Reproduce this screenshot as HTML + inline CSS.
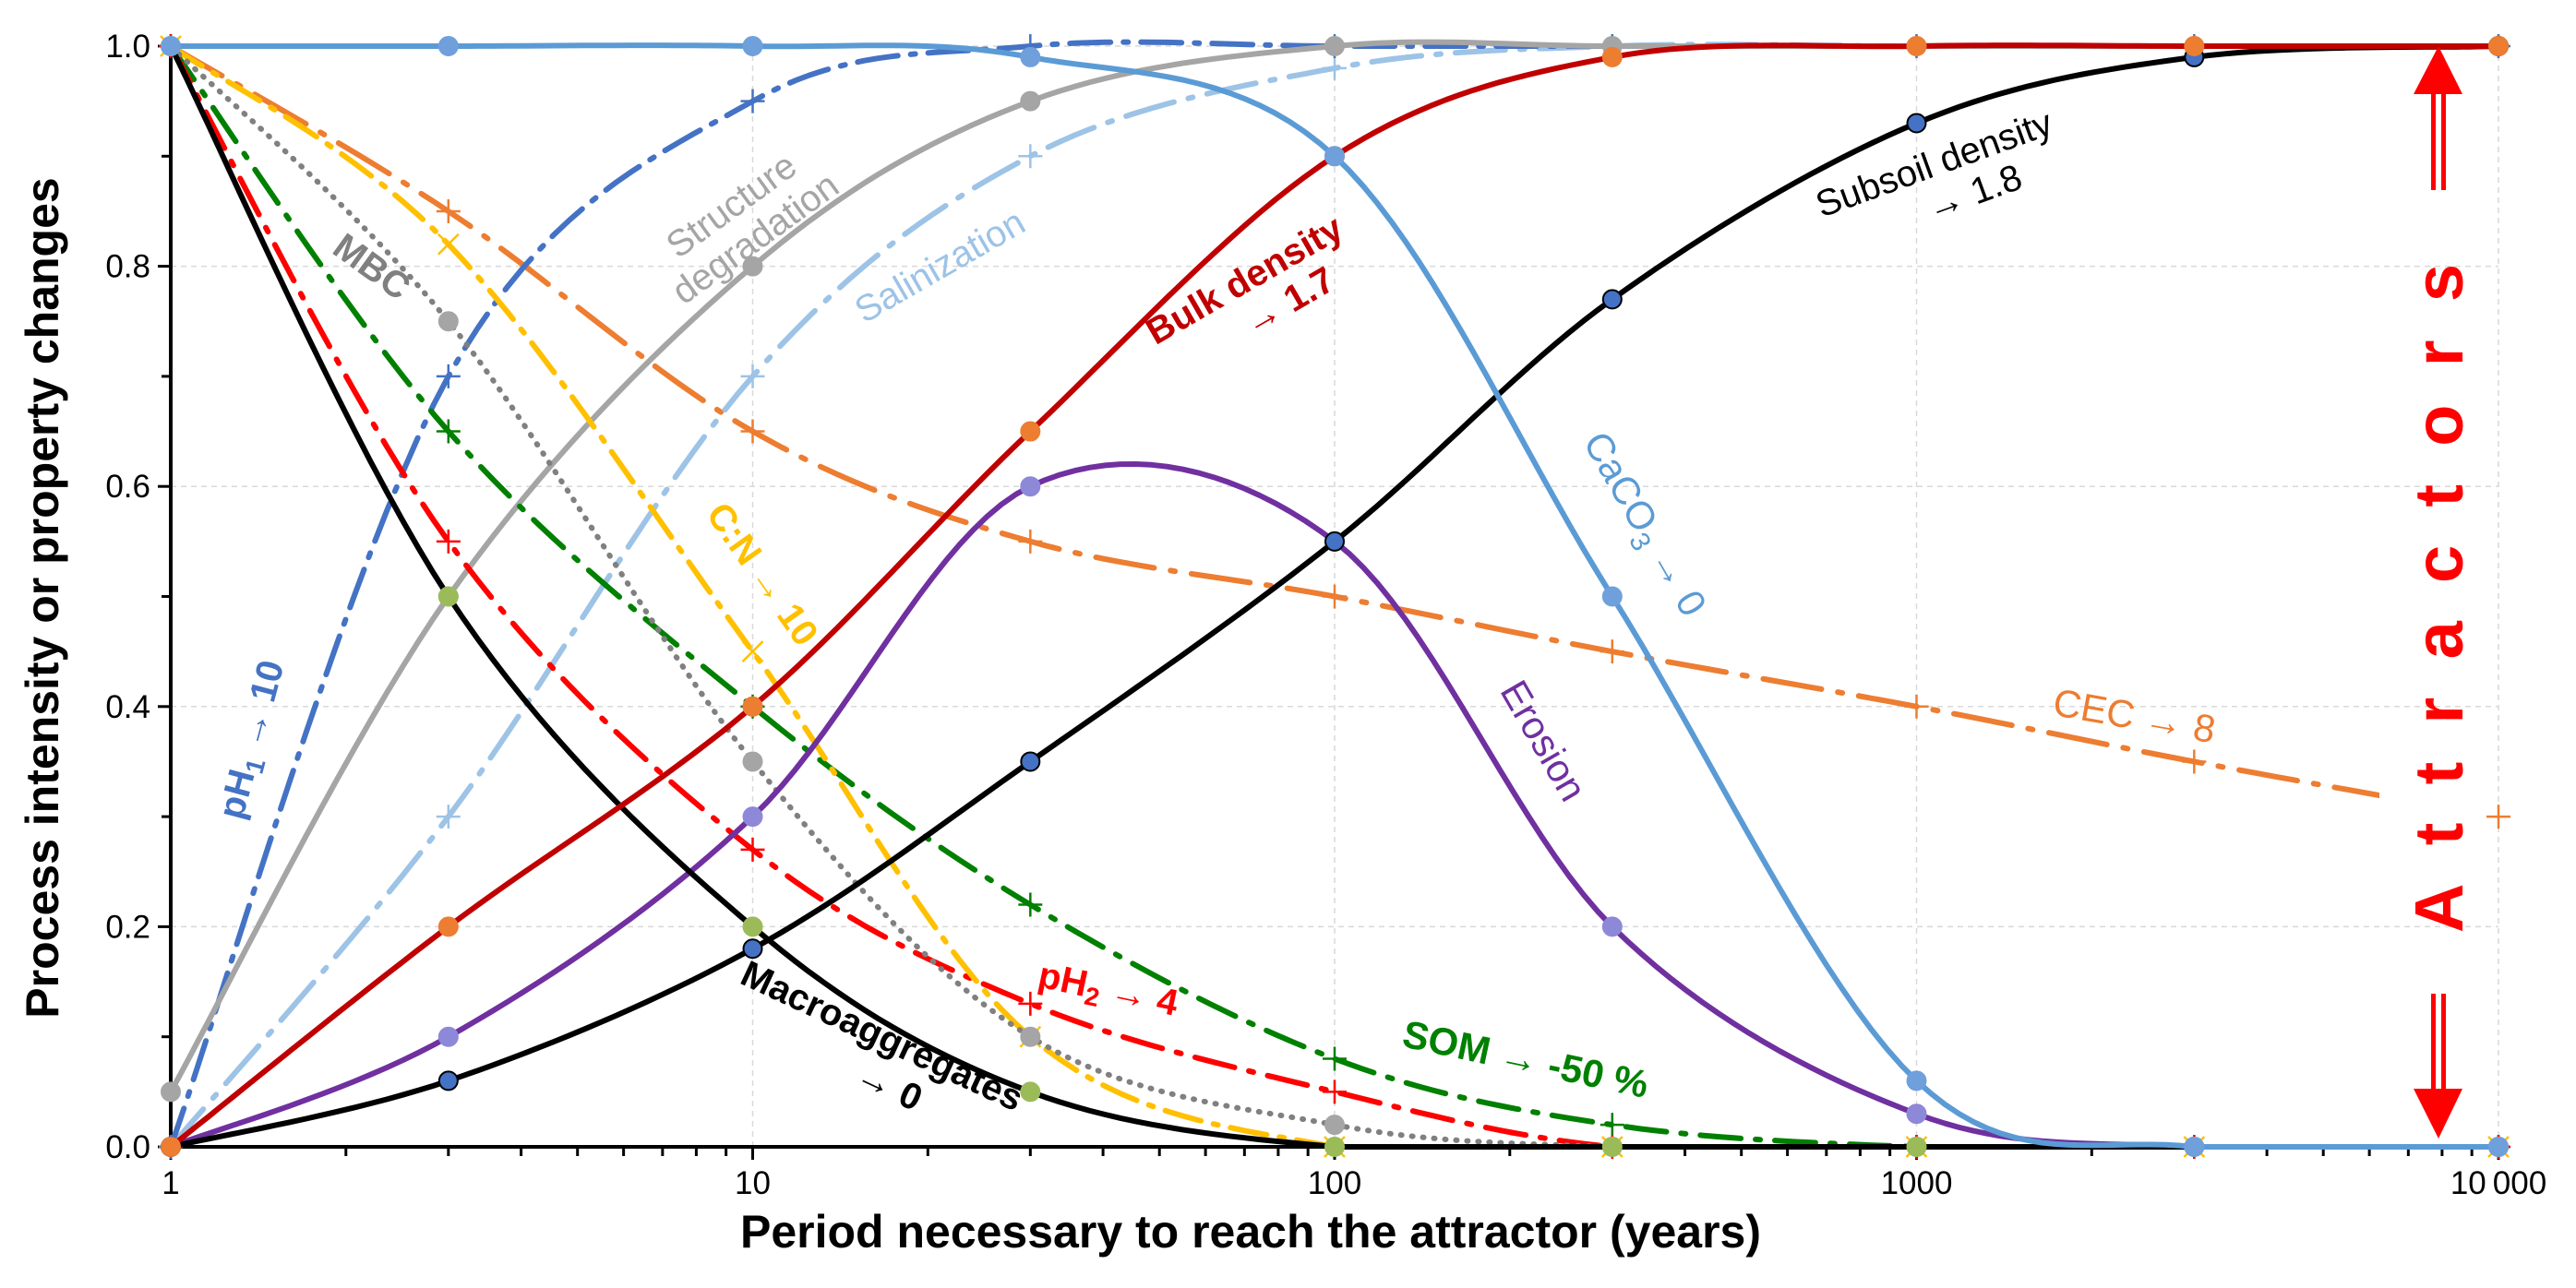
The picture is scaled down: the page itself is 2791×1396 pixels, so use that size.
<!DOCTYPE html>
<html><head><meta charset="utf-8"><style>
html,body{margin:0;padding:0;background:#fff}
svg{display:block;font-family:"Liberation Sans",sans-serif}
</style></head><body>
<svg id="chart" width="2791" height="1396" viewBox="0 0 2791 1396" xmlns="http://www.w3.org/2000/svg">
<defs><clipPath id="cecclip"><rect x="0" y="0" width="2578" height="1396"/></clipPath></defs>
<g id="grid"></g>
<g id="axes"></g>
<g id="series"></g>
<g id="labels" font-size="40">
<text fill="#A5A5A5" transform="translate(805,240) rotate(-36)" text-anchor="middle"><tspan x="0" dy="-8">Structure</tspan><tspan x="0" dy="44">degradation</tspan></text>
<text fill="#808080" font-weight="bold" transform="translate(395,300) rotate(36)" text-anchor="middle">MBC</text>
<text fill="#9DC3E6" transform="translate(1025,300) rotate(-30)" text-anchor="middle">Salinization</text>
<text fill="#C00000" font-weight="bold" transform="translate(1355,315) rotate(-30)" text-anchor="middle"><tspan x="0" dy="0">Bulk density</tspan><tspan x="30" dy="44">→ 1.7</tspan></text>
<text fill="#000" transform="translate(2100,190) rotate(-20)" text-anchor="middle"><tspan x="0" dy="0">Subsoil density</tspan><tspan x="30" dy="44">→ 1.8</tspan></text>
<text fill="#5B9BD5" font-size="42" transform="translate(1770,575) rotate(60)" text-anchor="middle">CaCO<tspan font-size="30" dy="10">3</tspan><tspan dy="-10"> → 0</tspan></text>
<text fill="#FFC000" font-weight="bold" transform="translate(815,630) rotate(55)" text-anchor="middle">C:N → 10</text>
<text fill="#4472C4" font-weight="bold" transform="translate(285,805) rotate(-75)" text-anchor="middle">pH<tspan font-size="28" dy="8">1</tspan><tspan dy="-8"> → 10</tspan></text>
<text fill="#7030A0" font-size="42" transform="translate(1660,810) rotate(60)" text-anchor="middle">Erosion</text>
<text fill="#ED7D31" font-size="42" transform="translate(2310,790) rotate(10)" text-anchor="middle">CEC → 8</text>
<text fill="#FF0000" font-weight="bold" transform="translate(1198,1085) rotate(12)" text-anchor="middle">pH<tspan font-size="28" dy="8">2</tspan><tspan dy="-8"> → 4</tspan></text>
<text fill="#008000" font-weight="bold" font-size="42" transform="translate(1650,1162) rotate(12)" text-anchor="middle">SOM → -50 %</text>
<text fill="#000" font-weight="bold" transform="translate(950,1135) rotate(25)" text-anchor="middle"><tspan x="0" dy="0">Macroaggregates</tspan><tspan x="30" dy="46">→ 0</tspan></text>
</g>
<g id="attractors" fill="#FF0000">
<polygon points="2642,50 2668,102 2615,102"/>
<rect x="2634" y="100" width="5" height="106" fill="#FF0000"/><rect x="2645" y="100" width="5" height="106" fill="#FF0000"/>
<text font-weight="bold" font-size="74" transform="translate(2668,1011) rotate(-90)" x="0" y="0" textLength="725" lengthAdjust="spacing">Attractors</text>
<rect x="2634" y="1077" width="5" height="106" fill="#FF0000"/><rect x="2645" y="1077" width="5" height="106" fill="#FF0000"/>
<polygon points="2642,1234 2668,1180 2615,1180"/>
</g>
<text font-weight="bold" font-size="50" transform="translate(63,648) rotate(-90)" text-anchor="middle">Process intensity or property changes</text>
<text font-weight="bold" font-size="50" x="1355" y="1352" text-anchor="middle">Period necessary to reach the attractor (years)</text>
</svg>
<script>
const times=[1,3,10,30,100,300,1000,3000,10000];
const bulkDensity=[0,0.2,0.4,0.65,0.9,0.99,1,1,1];
const subsoilDensity=[0,0.06,0.18,0.35,0.55,0.77,0.93,0.99,1];
const macroaggregates=[1,0.5,0.2,0.05,0,0,0,0,0];
const erosion=[0,0.1,0.3,0.6,0.55,0.2,0.03,0,0];
const caco3=[1,1,1,0.99,0.9,0.5,0.06,0,0];
const structureDegradation=[0.05,0.5,0.8,0.95,1,1,1,1,1];
const salinization=[0,0.3,0.7,0.9,0.98,1,1,1,1];
const ph1=[0,0.7,0.95,1,1,1,1,1,1];
const mbc=[1,0.75,0.35,0.1,0.02,0,0,0,0];
const cn=[1,0.82,0.45,0.1,0,0,0,0,0];
const ph2=[1,0.55,0.27,0.13,0.05,0,0,0,0];
const som=[1,0.65,0.4,0.22,0.08,0.02,0,0,0];
const cec=[1,0.85,0.65,0.55,0.5,0.45,0.4,0.35,0.3];
const yTicks=[0,0.2,0.4,0.6,0.8,1.0];
const yTickLabels=["0.0","0.2","0.4","0.6","0.8","1.0"];
const xTicks=[1,10,100,1000,10000];
const xTickLabels=["1","10","100","1000","10\u2009000"];

const X0=185,DEC=630.5,Y0=1243,YH=1193;
const sx=t=>X0+DEC*Math.log10(t);
const sy=v=>Y0-YH*v;
const NS="http://www.w3.org/2000/svg";
function mk(tag,attrs,parent){const e=document.createElementNS(NS,tag);for(const k in attrs)e.setAttribute(k,attrs[k]);parent.appendChild(e);return e;}
const grid=document.getElementById('grid'),axes=document.getElementById('axes'),series=document.getElementById('series');

yTicks.forEach((v,i)=>{
  if(v>0){const g=mk('line',{x1:X0,x2:sx(10000),y1:sy(v),y2:sy(v),stroke:'#d9d9d9','stroke-width':1.5,'stroke-dasharray':'6 5'},grid);
  
  }
  const t=mk('text',{x:X0-22,y:sy(v)+12,'font-size':35,'text-anchor':'end'},axes);
  
  
  t.textContent=yTickLabels[i];
  mk('line',{x1:X0-14,x2:X0,y1:sy(v),y2:sy(v),stroke:'#000','stroke-width':3},axes);
  if(v<1)mk('line',{x1:X0-10,x2:X0,y1:sy(v+0.1),y2:sy(v+0.1),stroke:'#000','stroke-width':3},axes);
});
xTicks.forEach((tv,i)=>{
  if(tv>1){const g=mk('line',{x1:sx(tv),x2:sx(tv),y1:sy(0),y2:sy(1),stroke:'#d9d9d9','stroke-width':1.5,'stroke-dasharray':'6 5'},grid);
  
  }
  const t=mk('text',{x:sx(tv),y:1294,'font-size':35,'text-anchor':'middle'},axes);
  
  
  t.textContent=xTickLabels[i];
  mk('line',{x1:sx(tv),x2:sx(tv),y1:Y0,y2:Y0+14,stroke:'#000','stroke-width':3},axes);
  if(tv<10000)for(let m=2;m<10;m++)mk('line',{x1:sx(tv*m),x2:sx(tv*m),y1:Y0,y2:Y0+10,stroke:'#000','stroke-width':3},axes);
});
mk('line',{x1:X0,x2:X0,y1:sy(1),y2:Y0,stroke:'#000','stroke-width':4},axes);
mk('line',{x1:X0,x2:sx(10000),y1:Y0,y2:Y0,stroke:'#000','stroke-width':4},axes);

function pathFor(vals){
  const P=times.map((t,i)=>[sx(t),sy(vals[i])]);
  let d='M'+P[0][0]+','+P[0][1];
  const clampY=y=>Math.min(Y0,Math.max(sy(1.005),y));
  for(let i=0;i<P.length-1;i++){
    const p0=P[i-1]||P[i],p1=P[i],p2=P[i+1],p3=P[i+2]||P[i+1];
    for(let s=1;s<=20;s++){
      const u=s/20,u2=u*u,u3=u2*u;
      const f=(a,b,c,e)=>0.5*((2*b)+(-a+c)*u+(2*a-5*b+4*c-e)*u2+(-a+3*b-3*c+e)*u3);
      let x=f(p0[0],p1[0],p2[0],p3[0]),y=f(p0[1],p1[1],p2[1],p3[1]);
      if(vals[i]<=1&&vals[i+1]<=1)y=clampY(y);
      d+=' L'+x.toFixed(1)+','+y.toFixed(1);
    }
  }
  return d;
}
const defs=[
 {name:'cec',vals:cec,color:'#ED7D31',dash:'64 18 5 18',marker:'plus',w:6,clip:true},
 {name:'salinization',vals:salinization,color:'#9DC3E6',dash:'54 16 5 16',marker:'plus',w:6},
 {name:'ph1',vals:ph1,color:'#4472C4',dash:'44 14 5 14',marker:'plus',w:6},
 {name:'structure-degradation',vals:structureDegradation,color:'#A5A5A5',marker:'circle',mfill:'#A5A5A5',w:6},
 {name:'som',vals:som,color:'#008000',dash:'44 16 5 16',marker:'plus',w:6},
 {name:'ph2',vals:ph2,color:'#FF0000',dash:'44 16 5 16',marker:'plus',w:6},
 {name:'cn',vals:cn,color:'#FFC000',dash:'40 14 5 14',marker:'x',w:6},
 {name:'mbc',vals:mbc,color:'#808080',dash:'1 11',marker:'circle',mfill:'#A5A5A5',w:6},
 {name:'erosion',vals:erosion,color:'#7030A0',marker:'circle',mfill:'#8E88D8',w:6},
 {name:'macroaggregates',vals:macroaggregates,color:'#000',marker:'circle',mfill:'#9BBB59',w:6},
 {name:'subsoil-density',vals:subsoilDensity,color:'#000',marker:'circle',mfill:'#4472C4',mstroke:'#000',w:6},
 {name:'bulk-density',vals:bulkDensity,color:'#C00000',marker:'circle',mfill:'#ED7D31',w:6},
 {name:'caco3',vals:caco3,color:'#5B9BD5',marker:'circle',mfill:'#6FA0DC',w:6},
];
defs.forEach(s=>{
  const g=mk('g',{},series);
  
  
  const a={d:pathFor(s.vals),fill:'none',stroke:s.color,'stroke-width':s.w,'stroke-linecap':'round','stroke-linejoin':'round'};
  if(s.dash)a['stroke-dasharray']=s.dash;
  if(s.clip)a['clip-path']='url(#cecclip)';
  const p=mk('path',a,g);
  
  
  times.forEach((t,i)=>{
    const x=sx(t),y=sy(s.vals[i]);let m;
    if(s.marker==='circle'){m=mk('circle',{cx:x,cy:y,r:10,fill:s.mfill,stroke:s.mstroke||s.mfill,'stroke-width':2},g);}
    else if(s.marker==='plus'){m=mk('path',{d:`M${x-13},${y}H${x+13}M${x},${y-13}V${y+13}`,stroke:s.color,'stroke-width':2.5},g);}
    else{m=mk('path',{d:`M${x-11},${y-11}L${x+11},${y+11}M${x-11},${y+11}L${x+11},${y-11}`,stroke:s.color,'stroke-width':2.5},g);}
    
    
  });
});
</script>
</body></html>
